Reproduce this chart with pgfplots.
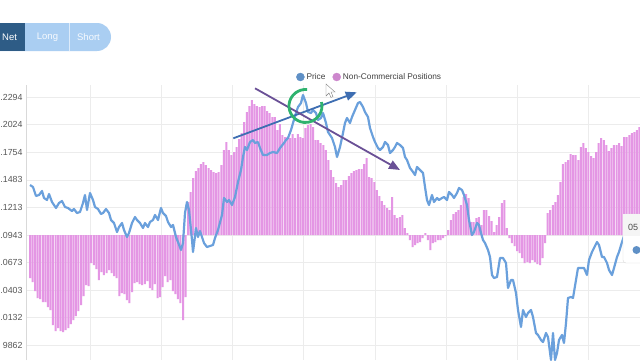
\documentclass[border=0pt]{standalone}
\usepackage{pgfplots}
\pgfplotsset{compat=1.18}
\usepackage{pgfplotstable}
\usetikzlibrary{arrows.meta}
\usepackage{fontspec}
\setmainfont{Liberation Sans}
\definecolor{pricecol}{RGB}{106,160,220}
\definecolor{barcol}{RGB}{228,150,228}
\definecolor{gridcol}{RGB}{236,236,236}
\definecolor{tickcol}{RGB}{85,85,85}
\definecolor{netcol}{RGB}{46,92,134}
\definecolor{btncol}{RGB}{170,206,242}
\definecolor{arrowblue}{RGB}{62,110,178}
\definecolor{arrowpurple}{RGB}{106,80,150}
\definecolor{circgreen}{RGB}{46,178,110}

\pgfplotstableread{
h
-43
-47
-56
-63
-64
-67
-67
-72
-75
-90
-96
-93
-96
-97
-95
-93
-89
-85
-81
-76
-70
-61
-50
-51
-28
-30
-34
-45
-37
-40
-38
-35
-38
-41
-43
-61
-58
-59
-65
-68
-57
-48
-47
-49
-50
-49
-46
-53
-55
-49
-63
-62
-52
-41
-47
-45
-56
-59
-64
-68
-85
-62
33
43
57
64
67
71
73
70
67
65
63
62
63
70
85
93
85
80
83
88
96
102
113
123
129
135
131
129
128
129
129
124
122
118
118
105
111
100
98
98
97
101
97
101
98
97
107
110
111
108
95
95
92
90
85
75
65
58
52
48
50
55
55
59
62
64
65
66
66
71
77
58
57
53
45
39
34
30
27
25
38
20
17
18
20
7
2
-5
-12
-10
-8
-7
-3
2
-5
-15
-8
-7
-5
-5
-3
-1
5
15
21
23
25
30
38
41
37
13
13
17
18
10
25
25
19
14
3
10
18
32
35
7
-3
-8
-11
-16
-18
-23
-28
-27
-28
-25
-27
-29
-30
-23
-8
22
25
30
33
40
53
71
73
75
81
80
80
75
88
92
87
83
79
77
83
92
97
95
90
84
87
90
90
92
89
98
98
100
102
103
105
108
}\bartable

\begin{document}
\begin{tikzpicture}[x=1pt,y=1pt]
\useasboundingbox (0,0) rectangle (640,360);
\clip (0,0) rectangle (640,360);
\fill[white] (0,0) rectangle (640,360);
\begin{axis}[
  at={(26,0)}, anchor=south west,
  scale only axis, width=614pt, height=275pt,
  xmin=26, xmax=640, ymin=-125, ymax=150,
  axis lines=left,
  axis line style={-, draw=black!15},
  x axis line style={draw=none},
  xtick={90.5,161.6,232.7,303.8,374.9,446,517.1,588.2},
  xticklabels={},
  ytick={-110.2,-82.7,-55.1,-27.6,0,27.6,55.1,82.7,110.2,137.8},
  yticklabels={9862,.0132,.0403,.0673,.0943,.1213,.1483,.1754,.2024,.2294},
  yticklabel style={font=\fontsize{8.8}{10}\selectfont, text=tickcol},
  xmajorgrids, ymajorgrids,
  grid style={gridcol, line width=0.8pt},
  major tick length=0pt,
  legend columns=2,
  legend style={at={(axis cs:296,158)}, anchor=west, draw=none, fill=none,
    inner sep=0pt, font=\fontsize{8.3}{10}\selectfont, text=black!75,
    /tikz/every even column/.append style={column sep=5pt}},
]
\addlegendimage{legend image code/.code={\fill[pricecol!90!black] (4pt,0pt) circle (4pt);}}
\addlegendentry{Price}
\addlegendimage{legend image code/.code={\fill[barcol!90!black] (4pt,0pt) circle (4pt);}}
\addlegendentry{Non-Commercial Positions}
\addplot[ybar, bar width=2.0, fill=barcol, draw=none, forget plot]
  table[x expr=30+2.55*\coordindex, y=h] {\bartable};
\addplot[pricecol, line width=2.2pt, line join=round, mark=none, forget plot] coordinates {
(30,50) (33,48) (36,39) (39,40) (42,44) (44,37) (47,35) (49,41) (52,33) (56,27)
(59,32) (62,34) (65,28) (68,27) (72,24) (74,26) (77,22) (80,23) (83,32) (85,40)
(87,25) (90,42) (93,35) (95,28) (98,26) (101,21) (103,22) (106,26) (109,22) (111,15)
(114,12) (117,3) (119,8) (122,12) (124,5) (127,-2) (129,2) (132,12) (135,18) (137,15)
(140,12) (143,7) (145,12) (148,8) (150,13) (153,15) (155,20) (158,15) (161,27) (163,22)
(166,19) (168,13) (171,8) (173,10) (176,-2) (178,-7) (181,-15) (183,-8) (185,22) (187,33)
(189,25) (192,-5) (193,-17) (196,7) (198,-2) (200,4) (202,-2) (204,-8) (207,-12) (210,-11)
(213,-10) (215,-3) (218,5) (222,20) (224,37) (227,33) (229,35) (232,30) (235,38) (238,53)
(241,65) (243,78) (245,88) (247,85) (250,93) (253,95) (255,92) (258,93) (260,87) (263,80)
(267,80) (270,82) (273,83) (277,82) (280,87) (284,92) (286,95) (288,97) (291,105)
(293,112) (296,122) (298,128) (301,132) (303,140) (306,132) (308,123) (311,122) (313,125) (316,122)
(318,115) (321,117) (323,122) (326,112) (328,103) (332,97) (335,88) (337,78) (340,88) (343,102)
(345,112) (347,117) (350,112) (352,118) (355,125) (358,132) (360,133) (363,128) (365,123) (368,118)
(370,107) (373,98) (375,93) (378,87) (380,85) (383,88) (385,93) (388,90) (390,82) (393,85)
(395,88) (397,92) (400,90) (403,87) (405,78) (407,75) (410,67) (413,63) (415,60) (417,68)
(420,65) (423,62) (425,48) (427,35) (429,30) (432,40) (434,33) (437,37) (439,35) (442,37)
(444,38) (447,35) (449,43) (452,40) (454,37) (457,42) (459,47) (462,45) (464,40) (467,30)
(469,15) (472,0) (474,3) (477,12) (479,10) (481,2) (483,-5) (485,-8) (488,-15) (490,-22)
(492,-40) (494,-43) (497,-42) (500,-23) (503,-23) (506,-28) (508,-53) (511,-45) (513,-45) (516,-58) (518,-75)
(521,-92) (523,-75) (526,-82) (528,-78) (531,-75) (533,-82) (536,-98) (538,-100) (541,-105) (543,-107)
(546,-98) (548,-102) (551,-125) (553,-98) (555,-125) (557,-118) (559,-105) (562,-100) (564,-108) (566,-88)
(568,-63) (571,-62) (573,-63) (576,-45) (578,-33) (581,-33) (584,-33) (587,-40) (589,-25) (592,-17)
(594,-13) (597,-7) (599,-10) (602,-22) (604,-22) (607,-28) (609,-35) (612,-40) (614,-33) (617,-22)
(619,-17) (622,-7) (625,2)
};
\end{axis}
% buttons
\fill[btncol, rounded corners=14pt] (-30,309) rectangle (111,337);
\fill[netcol] (-5,309) rectangle (25,337);
\draw[white!60!btncol, line width=0.8pt] (69,309) -- (69,337);
\node[white, anchor=west, inner sep=0pt, font=\fontsize{9.5}{11}\selectfont] at (2,323) {Net};
\node[white!90!btncol, font=\fontsize{9.5}{11}\selectfont] at (47.5,323) {Long};
\node[white!90!btncol, font=\fontsize{9.5}{11}\selectfont] at (88.5,323) {Short};
% annotations
\draw[arrowblue, line width=1.8pt, -{Triangle[length=11pt,width=9pt]}] (233.3,221.7) -- (356.7,267.7);
\draw[arrowpurple, line width=1.8pt, -{Triangle[length=11pt,width=9pt]}] (255,271.7) -- (400,190);
\draw[circgreen, line width=2.8pt] ([shift={(84:16.5)}]305.5,254) arc[start angle=84, end angle=374, radius=16.5];
% cursor
\filldraw[fill=white, draw=black!50, line width=0.4pt] (326,276) -- (326,264) -- (329,267) -- (331,262.5) -- (333,263.5) -- (331,268) -- (335,268) -- cycle;
% tooltip
\filldraw[fill=white, draw=black!15, rounded corners=3pt] (623,97) rectangle (665,146);
\fill[black!4] (623.4,124) rectangle (664,145.6);
\node[anchor=west, text=black!70, font=\fontsize{9}{10}\selectfont, inner sep=0pt] at (628,133) {05};
\fill[pricecol!90!black] (636.5,110) circle (4pt);
\end{tikzpicture}
\end{document}
